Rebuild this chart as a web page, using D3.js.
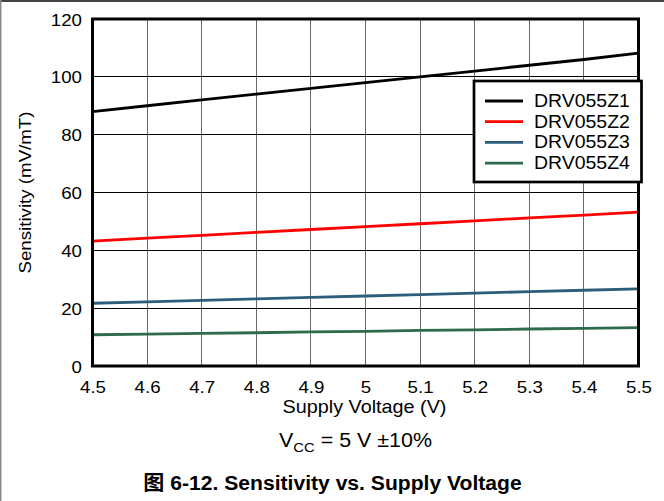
<!DOCTYPE html>
<html>
<head>
<meta charset="utf-8">
<script src="https://cdn.jsdelivr.net/npm/d3@7"></script>
<style>
  body { margin: 0; background: #fff; }
  svg text { font-family: "Liberation Sans", Arial, Helvetica, "Noto Sans CJK SC", sans-serif; fill: #000; }
</style>
</head>
<body>
<svg id="chart" width="664" height="501"></svg>
<script>
// Supply voltage sweep (V)
const voltages = [4.5, 4.6, 4.7, 4.8, 4.9, 5.0, 5.1, 5.2, 5.3, 5.4, 5.5];

// Sensitivity (mV/mT) per device variant
const sensZ1 = [88.0, 90.0, 92.0, 94.0, 96.0, 98.0, 100.0, 102.0, 104.0, 106.0, 108.2];
const sensZ2 = [43.2, 44.2, 45.2, 46.2, 47.2, 48.2, 49.2, 50.2, 51.2, 52.2, 53.2];
const sensZ3 = [21.7, 22.2, 22.7, 23.2, 23.7, 24.2, 24.7, 25.2, 25.7, 26.2, 26.7];
const sensZ4 = [10.8, 11.0, 11.3, 11.5, 11.8, 12.0, 12.3, 12.5, 12.8, 13.0, 13.3];

const seriesNames = ["DRV055Z1", "DRV055Z2", "DRV055Z3", "DRV055Z4"];
const seriesColors = ["#000000", "#ff0000", "#2d5d7b", "#2e6a4b"];

const xTicks = [4.5, 4.6, 4.7, 4.8, 4.9, 5.0, 5.1, 5.2, 5.3, 5.4, 5.5];
const xTickLabels = ["4.5", "4.6", "4.7", "4.8", "4.9", "5", "5.1", "5.2", "5.3", "5.4", "5.5"];
const yTicks = [0, 20, 40, 60, 80, 100, 120];

const series = [sensZ1, sensZ2, sensZ3, sensZ4].map((vals, i) => ({
  name: seriesNames[i],
  color: seriesColors[i],
  points: voltages.map((v, j) => ({ v, s: vals[j] }))
}));

const svg = d3.select("#chart");
const SX = 1.1; // horizontal stretch applied to all lettering

// Outer page frame
svg.append("line").attr("x1", 0).attr("x2", 664).attr("y1", 1).attr("y2", 1)
  .attr("stroke", "#444").attr("stroke-width", 2);
svg.append("line").attr("x1", 0.75).attr("x2", 0.75).attr("y1", 0).attr("y2", 501)
  .attr("stroke", "#8a8a8a").attr("stroke-width", 1.5);

const plot = { left: 92.5, right: 638.5, top: 19, bottom: 366 };

const x = d3.scaleLinear().domain([4.5, 5.5]).range([plot.left, plot.right]);
const y = d3.scaleLinear().domain([0, 120]).range([plot.bottom, plot.top]);

const crisp = v => Math.round(v - 0.5) + 0.5;

// Grid
const grid = svg.append("g");
grid.selectAll("line.vx").data(xTicks.slice(1, -1)).join("line")
  .attr("class", "vx")
  .attr("x1", d => crisp(x(d))).attr("x2", d => crisp(x(d)))
  .attr("y1", plot.top).attr("y2", plot.bottom)
  .attr("stroke", "#6a6a6a").attr("stroke-width", 1);
grid.selectAll("line.hy").data(yTicks.slice(1, -1)).join("line")
  .attr("class", "hy")
  .attr("x1", plot.left).attr("x2", plot.right)
  .attr("y1", d => crisp(y(d))).attr("y2", d => crisp(y(d)))
  .attr("stroke", "#000").attr("stroke-width", 1);

// Axes (labels only; the frame is drawn separately)
const xAxis = svg.append("g")
  .attr("transform", `translate(0,${plot.bottom})`)
  .call(d3.axisBottom(x).tickValues(xTicks).tickSize(0).tickPadding(15)
    .tickFormat((d, i) => xTickLabels[i]));
const yAxis = svg.append("g")
  .attr("transform", `translate(${plot.left},0)`)
  .call(d3.axisLeft(y).tickValues(yTicks).tickSize(0).tickPadding(10.5 / SX));
[xAxis, yAxis].forEach(a => {
  a.select(".domain").remove();
  a.selectAll("text").attr("font-size", 17).attr("font-family", null)
    .attr("transform", `scale(${SX},1)`);
});
xAxis.selectAll("text").attr("dy", "0.71em");
yAxis.selectAll("text").attr("dy", "0.36em").attr("x", -10.5 / SX);

// Series lines
const line = d3.line().x(d => x(d.v)).y(d => y(d.s));
svg.append("g").selectAll("path").data(series).join("path")
  .attr("d", d => line(d.points))
  .attr("fill", "none")
  .attr("stroke", d => d.color)
  .attr("stroke-width", 2.8)
  .attr("stroke-linejoin", "round");

// Plot frame
svg.append("rect")
  .attr("x", plot.left).attr("y", plot.top)
  .attr("width", plot.right - plot.left).attr("height", plot.bottom - plot.top)
  .attr("fill", "none").attr("stroke", "#000").attr("stroke-width", 3);

// Stretched text helper
function label(px, py, str, size, anchor, opts = {}) {
  const g = svg.append("g")
    .attr("transform", `translate(${px},${py})${opts.rotate ? ` rotate(${opts.rotate})` : ""} scale(${opts.sx || SX},1)`);
  const t = g.append("text")
    .attr("text-anchor", anchor)
    .attr("font-size", size)
    .text(str);
  if (opts.bold) t.attr("font-weight", "bold");
  return t;
}

// Legend
const legend = { x: 474, y: 81, w: 167.5, h: 101 };
svg.append("rect")
  .attr("x", legend.x).attr("y", legend.y).attr("width", legend.w).attr("height", legend.h)
  .attr("fill", "#fff").attr("stroke", "#000").attr("stroke-width", 2.7);
series.forEach((s, i) => {
  const base = 107 + i * 20.7;
  svg.append("line")
    .attr("x1", 485).attr("x2", 523)
    .attr("y1", base - 6).attr("y2", base - 6)
    .attr("stroke", s.color).attr("stroke-width", 2.8);
  label(534, base, s.name, 17.7, "start");
});

// Axis titles
label(31, (plot.top + plot.bottom) / 2, "Sensitivity (mV/mT)", 17, "middle", { rotate: -90 });
label(364.5, 413, "Supply Voltage (V)", 18, "middle");

// Test condition
const cond = label(279, 446.5, "", 19.5, "start");
cond.append("tspan").text("V");
cond.append("tspan").attr("font-size", 13.5).attr("dy", 5.3).text("CC");
cond.append("tspan").attr("dy", -5.3).text(" = 5 V ±10%");

// Figure caption
label(332.5, 490, "图 6-12. Sensitivity vs. Supply Voltage", 20.5, "middle", { bold: true, sx: 1.03 });
</script>
</body>
</html>
